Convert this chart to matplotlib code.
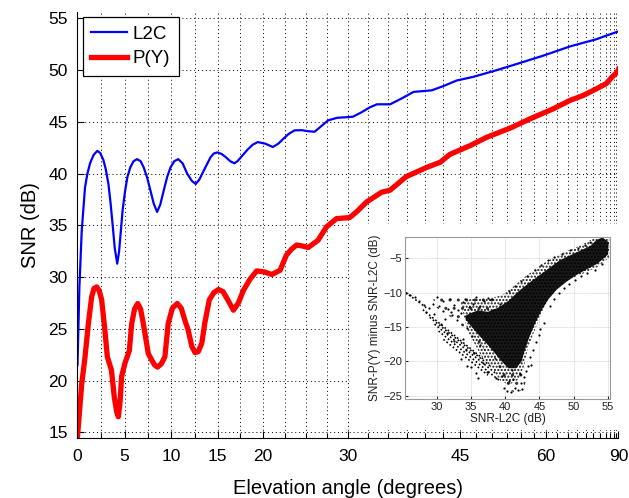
## SNR des signaux L2C et P(Y) en fonction de l'élévation
## avec en encart la différence SNR-P(Y) - SNR-L2C

import numpy as np
import matplotlib.pyplot as plt

plt.rcParams['font.family'] = ['Liberation Sans', 'DejaVu Sans']
plt.rcParams['hatch.linewidth'] = 1.0

## Données

# Courbe L2C (élévation en degrés, SNR en dB)
elev_l2c = [0, 0.2, 0.45, 0.8, 1.05, 1.33, 1.7, 2.1, 2.4, 2.75,
            3.0, 3.28, 3.5, 3.75, 3.95, 4.21, 4.4, 4.6, 4.8, 5.06,
            5.3, 5.6, 5.95, 6.32, 6.7, 7.03, 7.4, 7.74, 8.1, 8.46,
            8.8, 9.18, 9.55, 9.9, 10.3, 10.73, 11.2, 11.7, 12.2, 12.62,
            13.0, 13.5, 13.9, 14.25, 14.6, 15.0, 15.45, 15.9, 16.4, 16.85,
            17.2, 17.6, 18.3, 18.9, 19.46, 20.3, 21.16, 21.8, 22.4, 23.0,
            23.65, 24.5, 25.2, 26.0, 26.8, 27.6, 28.7, 29.8, 30.6, 31.6,
            32.7, 33.6, 35.3, 36.9, 38.4, 40.9, 42.7, 44.5, 47.0, 50.8,
            54.3, 59.4, 65.6, 73.7, 78.0, 90]
snr_l2c = [21.5, 29.0, 34.5, 38.7, 40.0, 41.0, 41.8, 42.2, 42.0, 41.3,
           40.4, 39.0, 37.2, 34.8, 32.8, 31.3, 32.4, 34.5, 36.6, 38.4,
           39.7, 40.6, 41.2, 41.4, 41.2, 40.6, 39.6, 38.4, 37.1, 36.3,
           37.0, 38.4, 39.7, 40.6, 41.2, 41.4, 41.0, 40.0, 39.3, 39.0,
           39.4, 40.3, 41.0, 41.6, 41.95, 42.05, 41.9, 41.6, 41.2, 41.0,
           41.2, 41.6, 42.3, 42.8, 43.05, 42.9, 42.57, 42.9, 43.4, 43.85,
           44.18, 44.2, 44.1, 44.05, 44.6, 45.15, 45.4, 45.45, 45.5, 45.9,
           46.4, 46.7, 46.7, 47.3, 47.9, 48.05, 48.5, 49.0, 49.35, 50.0,
           50.6, 51.4, 52.3, 53.0, 53.35, 53.75]

# Courbe P(Y)
elev_py = [0, 0.45, 0.8, 1.15, 1.5, 1.75, 2.03, 2.3, 2.56, 2.9,
           3.16, 3.6, 3.9, 4.15, 4.33, 4.5, 4.68, 5.04, 5.5, 5.75,
           6.05, 6.39, 6.7, 6.99, 7.52, 7.88, 8.2, 8.5, 8.9, 9.3,
           9.65, 10.1, 10.63, 11.05, 11.46, 11.8, 12.2, 12.55, 12.9, 13.28,
           13.6, 14.1, 14.6, 15.1, 15.6, 16.0, 16.75, 17.3, 17.85, 18.6,
           19.34, 20.2, 21.05, 22.0, 22.7, 23.3, 23.9, 24.6, 25.25, 26.4,
           27.4, 28.6, 29.4, 30.2, 31.05, 32.3, 34.2, 35.3, 37.4, 40.2,
           42.1, 43.5, 46.5, 49.1, 53.1, 56.8, 61.6, 65.5, 69.2, 73.6,
           77.8, 80.9, 86.0, 90]
snr_py = [14.6, 19.7, 22.3, 25.5, 28.1, 28.9, 29.05, 28.7, 27.8, 24.9,
          22.3, 21.0, 18.4, 17.0, 16.5, 17.8, 20.4, 21.7, 22.9, 25.5,
          26.9, 27.45, 26.9, 25.5, 22.6, 22.0, 21.5, 21.3, 21.6, 22.3,
          25.5, 27.0, 27.45, 27.0, 25.8, 24.9, 23.3, 22.7, 22.8, 23.6,
          25.5, 27.8, 28.5, 28.8, 28.6, 28.0, 26.8, 27.5, 28.7, 29.8,
          30.6, 30.5, 30.25, 30.67, 32.1, 32.7, 33.1, 33.0, 32.86, 33.56,
          34.85, 35.65, 35.7, 35.75, 36.3, 37.26, 38.2, 38.4, 39.7, 40.6,
          41.1, 41.86, 42.7, 43.5, 44.4, 45.3, 46.27, 47.07, 47.56, 48.2,
          48.7, 49.3, 49.8, 50.1]

# Graduations
x_majeurs = [0, 5, 10, 15, 20, 30, 45, 60, 90]
x_mineurs = [2.5 * k for k in range(37)]
y_majeurs = [15, 20, 25, 30, 35, 40, 45, 50, 55]

# Encart : nuage de points (SNR-L2C, SNR-P(Y) - SNR-L2C)
# zone très dense
coeur_x = [34.5, 36.0, 37.5, 39.0, 40.5, 42.0, 43.5, 45.0, 46.5, 48.0,
           49.5, 51.0, 52.5, 53.3, 54.2, 55.1, 55.0, 53.5, 52.0, 50.5,
           49.0, 47.5, 46.3, 45.3, 44.4, 43.6, 42.9, 42.4, 41.6, 40.5,
           39.5, 38.5, 37.3, 36.0, 34.8, 34.2]
coeur_y = [-13.2, -12.6, -12.8, -12.2, -11.2, -9.8, -8.6, -7.5, -6.4, -5.3,
           -4.6, -3.9, -3.2, -2.4, -2.0, -2.7, -4.5, -5.8, -6.6, -7.4,
           -8.4, -9.6, -11.0, -12.6, -14.4, -16.3, -18.3, -20.0, -21.0, -21.0,
           -20.0, -18.8, -17.4, -16.0, -14.6, -13.8]
# zone moyennement dense
halo_x = [33.5, 35.5, 37.5, 39.5, 41.0, 42.5, 44.0, 45.5, 47.0, 48.5,
          50.0, 51.5, 53.0, 54.0, 55.2, 55.2, 53.5, 51.5, 49.5, 47.8,
          46.5, 45.6, 44.8, 44.0, 43.3, 42.8, 42.0, 40.6, 39.3, 38.2,
          36.5, 34.5]
halo_y = [-11.4, -10.8, -10.9, -10.4, -9.3, -8.0, -6.9, -5.8, -5.0, -4.2,
          -3.6, -2.9, -2.1, -1.9, -2.2, -4.9, -6.3, -7.2, -8.0, -9.3,
          -10.8, -12.5, -14.3, -16.3, -18.2, -20.5, -22.6, -23.4, -22.8, -21.2,
          -19.2, -15.5]
# zone peu dense
clair_x = [29.5, 32.0, 34.5, 37.0, 38.5, 38.0, 36.0, 34.5, 35.5, 37.5,
           39.0, 40.0, 41.5, 42.8, 43.2, 42.5, 41.0, 39.5, 37.0, 34.5,
           32.0, 30.0]
clair_y = [-11.0, -10.6, -10.4, -10.6, -10.3, -12.5, -13.0, -14.5, -16.5, -19.0,
           -21.5, -23.8, -24.6, -24.0, -21.5, -20.5, -21.5, -20.5, -17.5, -15.5,
           -13.5, -12.2]
# points isolés
pts_x = [25.6, 26.2, 26.9, 27.5, 28.2, 28.9, 29.5, 30.0, 30.4, 31.0, 31.6,
         32.0, 32.6, 33.2, 33.8, 34.2, 34.7, 35.3, 35.8, 36.3, 36.9, 37.5,
         38.1, 32.3, 33.0, 31.2, 30.7, 34.5, 35.2, 33.8, 32.6, 31.5, 36.4,
         35.5, 34.3, 33.5, 36.8, 37.4, 35.0, 36.1, 34.4, 35.8, 37.5, 38.7,
         39.8, 40.3, 40.9, 41.4, 41.9, 42.3, 41.2, 40.6, 42.7, 43.0, 42.2,
         39.6, 43.3, 43.6, 44.0, 44.5, 44.9, 45.1, 45.6, 46.6, 47.2, 47.9,
         48.6, 49.3, 50.2, 51.0, 52.0, 53.1, 54.2, 40.5, 41.4, 42.3, 43.2,
         44.3, 45.2, 46.3, 47.2, 48.3, 49.4, 50.6, 51.6, 52.4, 33.6, 32.1,
         30.9, 29.6, 28.4, 37.0, 38.3, 39.2, 43.8, 42.5, 41.0]
pts_y = [-10.0, -10.4, -10.7, -11.3, -11.8, -12.2, -11.6, -10.6, -12.0,
         -11.3, -12.4, -11.0, -11.8, -12.6, -11.4, -10.9, -12.1, -11.7,
         -10.7, -11.9, -11.2, -10.8, -11.0, -13.2, -14.0, -13.8, -14.6,
         -15.2, -16.3, -16.8, -17.0, -15.9, -17.6, -18.8, -18.4, -19.6,
         -20.3, -21.5, -20.8, -22.4, -20.7, -21.7, -21.5, -22.4, -23.8,
         -24.3, -24.5, -23.9, -24.2, -23.1, -22.6, -22.9, -22.2, -21.4,
         -21.8, -22.1, -20.6, -19.3, -18.4, -17.2, -16.1, -15.3, -14.4,
         -11.9, -11.0, -10.1, -9.4, -8.7, -8.2, -7.6, -7.1, -6.8, -5.8,
         -9.8, -9.0, -8.4, -7.6, -6.7, -6.0, -5.3, -4.8, -4.4, -3.9, -3.6,
         -3.1, -2.7, -13.0, -12.9, -12.7, -13.1, -12.9, -13.6, -12.6,
         -11.7, -20.5, -24.0, -21.3]
# alignements de points (bandes parallèles)
bandes_x0 = [25.5, 28.0, 29.0, 29.7, 30.3, 31.0]
bandes_y0 = [-10.0, -12.5, -13.6, -14.6, -15.6, -16.8]
bandes_x1 = [28.5, 37.0, 38.0, 38.7, 39.3, 37.5]
bandes_y1 = [-12.2, -19.8, -20.8, -21.8, -22.9, -22.0]


## Tracé principal

def sin_deg(x):
    return np.sin(np.radians(np.clip(x, 0, 90)))

def asin_deg(u):
    return np.degrees(np.arcsin(np.clip(u, 0, 1)))

fig = plt.figure(figsize=(6.29, 4.98), dpi=100)
ax = fig.add_axes([0.1232, 0.1205, 0.8601, 0.856])
ax.set_xscale('function', functions=(sin_deg, asin_deg))

ax.plot(elev_l2c, snr_l2c, color='blue', linewidth=1.6, label='L2C')
ax.plot(elev_py, snr_py, color='red', linewidth=3.8, label='P(Y)',
        solid_joinstyle='round')

ax.set_xlim(0, 90)
ax.set_ylim(14.45, 55.65)
ax.set_xticks(x_majeurs)
ax.set_xticklabels([str(v) for v in x_majeurs])
ax.set_xticks(x_mineurs, minor=True)
ax.set_yticks(y_majeurs)
ax.tick_params(axis='both', which='both', direction='in', labelsize=12.5)
ax.tick_params(axis='x', which='major', length=5, width=0.8, pad=8)
ax.tick_params(axis='y', which='major', length=5, width=0.8, pad=7)
ax.tick_params(axis='x', which='minor', length=3.5, width=0.8)
ax.grid(True, which='both', axis='x', color='black', linestyle=(0, (1, 3)),
        linewidth=0.7)
ax.grid(True, which='major', axis='y', color='black', linestyle=(0, (1, 3)),
        linewidth=0.7)
ax.spines['top'].set_visible(False)
ax.spines['right'].set_visible(False)
ax.set_xlabel('Elevation angle (degrees)', fontsize=14.5, labelpad=11)
ax.set_ylabel('SNR (dB)', fontsize=14.5, labelpad=6)

leg = ax.legend(loc='upper left', bbox_to_anchor=(0.0102, 0.9876),
                borderaxespad=0, fontsize=13.5, handlelength=1.9,
                fancybox=False, framealpha=1, edgecolor='black',
                borderpad=0.45, labelspacing=0.4, handletextpad=0.3)
leg.get_frame().set_linewidth(0.9)


## Encart

fond = fig.add_axes([0.5564, 0.1365, 0.4245, 0.4137])
fond.set_facecolor('white')
fond.set_xticks([])
fond.set_yticks([])
for s in fond.spines.values():
    s.set_visible(False)

enc = fig.add_axes([0.6439, 0.1982, 0.3259, 0.3265])
enc.fill(clair_x, clair_y, facecolor='none', edgecolor='#333333',
         hatch='..', linewidth=0)
enc.fill(halo_x, halo_y, facecolor='none', edgecolor='#111111',
         hatch='.....', linewidth=0)
enc.fill(coeur_x, coeur_y, color='black', alpha=0.9, linewidth=0)
for k in range(len(bandes_x0)):
    enc.plot([bandes_x0[k], bandes_x1[k]], [bandes_y0[k], bandes_y1[k]],
             color='black', linewidth=1.2, linestyle=(0, (1, 1.4)))
enc.scatter(pts_x, pts_y, s=2.5, color='black', linewidths=0)

enc.set_xlim(25.4, 55.3)
enc.set_ylim(-25.5, -1.9)
enc.set_xticks([30, 35, 40, 45, 50, 55])
enc.set_yticks([-25, -20, -15, -10, -5])
enc.tick_params(direction='in', labelsize=8, length=2, colors='#222222',
                pad=2)
enc.grid(True, color='#cccccc', linestyle=(0, (1, 1)), linewidth=0.6)
enc.set_axisbelow(True)
for s in enc.spines.values():
    s.set_color('#999999')
enc.set_xlabel('SNR-L2C (dB)', fontsize=8.5, color='#222222', labelpad=1)
enc.set_ylabel('SNR-P(Y) minus SNR-L2C (dB)', fontsize=8.5,
               color='#222222', labelpad=2)

plt.savefig('out.png', dpi=100)
